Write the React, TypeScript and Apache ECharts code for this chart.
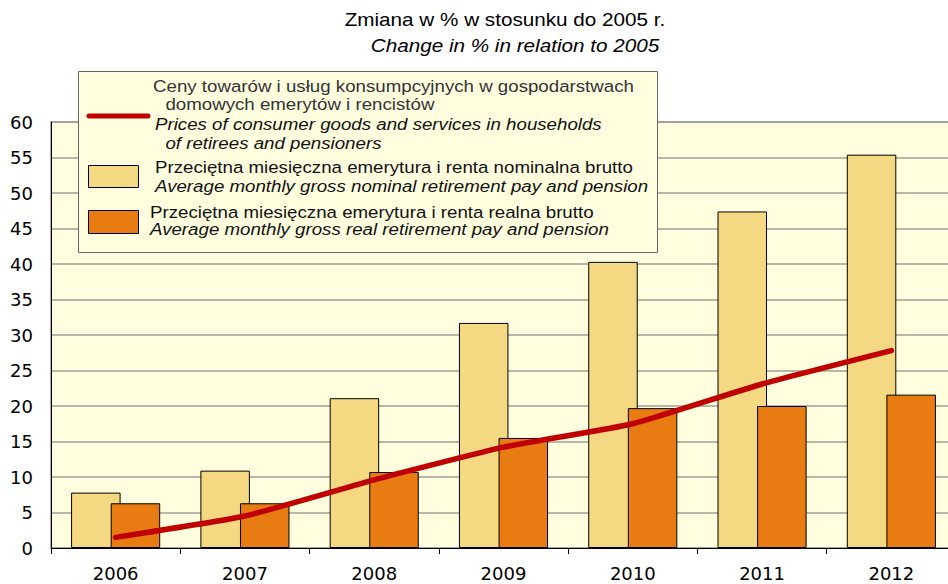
import React, { useEffect, useRef } from "react";
import * as echarts from "echarts";

const years = ["2006", "2007", "2008", "2009", "2010", "2011", "2012"];
const nominal = [7.8, 10.9, 21.1, 31.7, 40.3, 47.4, 55.4];
const real = [6.3, 6.3, 10.7, 15.5, 19.7, 20.0, 21.6];
const prices = [1.5, 4.5, 9.6, 14.2, 17.5, 23.1, 27.8];

const titlePl = "Zmiana w % w stosunku do 2005 r.";
const titleEn = "Change in % in relation to 2005";
const legendPrices = [
  "Ceny towarów i usług konsumpcyjnych w gospodarstwach",
  "  domowych emerytów i rencistów",
  "Prices of consumer goods and services in households",
  "  of retirees and pensioners",
];
const legendNominal = [
  "Przeciętna miesięczna emerytura i renta nominalna brutto",
  "Average monthly gross nominal retirement pay and pension",
];
const legendReal = [
  "Przeciętna miesięczna emerytura i renta realna brutto",
  "Average monthly gross real retirement pay and pension",
];

const FONT = "'Liberation Sans', Arial, sans-serif";
const AXFONT = "'DejaVu Sans', sans-serif";
const C_NOM = "#F5D982";
const C_REAL = "#E87B12";
const C_LINE = "#C00000";
const BG = "#FFFFE0";

export default function App() {
  const ref = useRef<HTMLDivElement>(null);
  useEffect(() => {
    document.body.style.margin = "0";
    document.body.style.overflow = "hidden";
    const chart = echarts.init(ref.current!, null, { renderer: "svg" });
    const txt = (x: number, y: number, text: string, italic = false, color = "#222") => ({
      type: "text",
      x,
      y,
      scaleX: 1.1,
      z: 11,
      style: {
        text,
        fill: color,
        font: `${italic ? "italic " : ""}17px ${FONT}`,
        textVerticalAlign: "middle",
      },
    });
    chart.setOption({
      animation: false,
      grid: {
        left: 51,
        top: 122,
        width: 905,
        height: 426,
        show: true,
        backgroundColor: BG,
        borderColor: "#555",
        borderWidth: 1,
      },
      xAxis: {
        type: "category",
        data: years,
        axisLine: { lineStyle: { color: "#000", width: 1 } },
        axisTick: { show: true, length: 6, lineStyle: { color: "#000" } },
        axisLabel: { color: "#000", fontSize: 18, fontFamily: AXFONT, margin: 16 },
      },
      yAxis: {
        type: "value",
        min: 0,
        max: 60,
        interval: 5,
        axisLine: { show: true, lineStyle: { color: "#000", width: 1 } },
        axisTick: { show: false },
        axisLabel: { color: "#000", fontSize: 18, fontFamily: AXFONT, margin: 18 },
        splitLine: { lineStyle: { color: "#A0A098", width: 1.5 } },
      },
      series: [
        {
          name: "nominal",
          type: "bar",
          data: nominal,
          barWidth: 49.5,
          itemStyle: { color: C_NOM, borderColor: "#000", borderWidth: 1 },
        },
        {
          name: "real",
          type: "bar",
          data: real,
          barWidth: 49.5,
          barGap: "-20%",
          itemStyle: { color: C_REAL, borderColor: "#000", borderWidth: 1 },
        },
        {
          name: "prices",
          type: "line",
          data: prices,
          smooth: 0.15,
          symbol: "none",
          z: 5,
          lineStyle: { color: C_LINE, width: 5.5, cap: "round" },
        },
      ],
      graphic: [
        {
          type: "text",
          x: 505,
          y: 20,
          scaleX: 1.15,
          style: { text: titlePl, fill: "#000", font: `18px ${FONT}`, textAlign: "center", textVerticalAlign: "middle" },
        },
        {
          type: "text",
          x: 515,
          y: 46,
          scaleX: 1.15,
          style: { text: titleEn, fill: "#000", font: `italic 18px ${FONT}`, textAlign: "center", textVerticalAlign: "middle" },
        },
        {
          type: "rect",
          shape: { x: 78.5, y: 71.5, width: 579, height: 181 },
          style: { fill: BG, stroke: "#666", lineWidth: 1 },
          z: 10,
        },
        {
          type: "line",
          shape: { x1: 89, y1: 116, x2: 148, y2: 116 },
          style: { stroke: C_LINE, lineWidth: 5, lineCap: "round" },
          z: 11,
        },
        {
          type: "rect",
          shape: { x: 88.5, y: 165.5, width: 50, height: 22 },
          style: { fill: C_NOM, stroke: "#000", lineWidth: 1 },
          z: 11,
        },
        {
          type: "rect",
          shape: { x: 88.5, y: 210.5, width: 50, height: 23 },
          style: { fill: C_REAL, stroke: "#000", lineWidth: 1 },
          z: 11,
        },
        txt(153, 86, legendPrices[0], false, "#333"),
        txt(155, 104, legendPrices[1], false, "#333"),
        txt(155, 124, legendPrices[2], true, "#111"),
        txt(155, 143, legendPrices[3], true, "#111"),
        txt(155, 167, legendNominal[0], false, "#111"),
        txt(155, 186, legendNominal[1], true, "#111"),
        txt(150, 212, legendReal[0], false, "#111"),
        txt(150, 229, legendReal[1], true, "#111"),
      ],
    });
    return () => chart.dispose();
  }, []);
  return <div ref={ref} style={{ width: 964, height: 584 }} />;
}
